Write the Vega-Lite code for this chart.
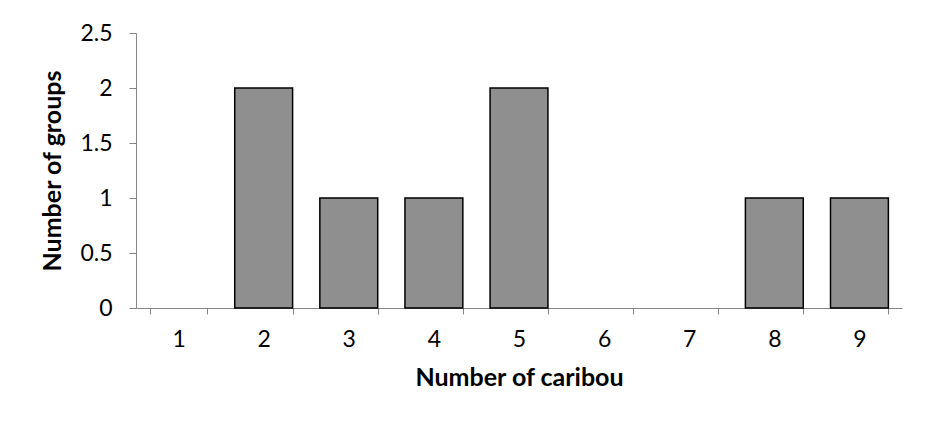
{
  "$schema": "https://vega.github.io/schema/vega-lite/v6.json",
  "width": 766,
  "height": 275,
  "autosize": {"type": "none"},
  "padding": {"left": 136, "top": 33, "right": 29, "bottom": 119},
  "background": "white",
  "config": {
    "view": {"stroke": null},
    "font": "Lato",
    "axis": {
      "domainColor": "#868686",
      "tickColor": "#868686",
      "domainWidth": 1,
      "tickWidth": 1,
      "grid": false,
      "labelFont": "Lato",
      "labelFontSize": 23,
      "labelColor": "#000000",
      "titleFont": "Lato",
      "titleFontSize": 25,
      "titleFontWeight": "bold",
      "titleColor": "#000000"
    }
  },
  "data": {
    "values": [
      {"caribou": "1", "groups": 0},
      {"caribou": "2", "groups": 2},
      {"caribou": "3", "groups": 1},
      {"caribou": "4", "groups": 1},
      {"caribou": "5", "groups": 2},
      {"caribou": "6", "groups": 0},
      {"caribou": "7", "groups": 0},
      {"caribou": "8", "groups": 1},
      {"caribou": "9", "groups": 1}
    ]
  },
  "mark": {"type": "bar", "fill": "#8f8f8f", "stroke": "#000000"},
  "encoding": {
    "x": {
      "field": "caribou",
      "type": "ordinal",
      "sort": null,
      "scale": {"paddingInner": 0.32, "paddingOuter": 0.16},
      "axis": {
        "title": "Number of caribou",
        "labelAngle": 0,
        "tickBand": "extent",
        "tickSize": 6,
        "labelPadding": 14,
        "titlePadding": 14
      }
    },
    "y": {
      "field": "groups",
      "type": "quantitative",
      "scale": {"domain": [0, 2.5], "nice": false},
      "axis": {
        "title": "Number of groups",
        "values": [0, 0.5, 1, 1.5, 2, 2.5],
        "format": "~g",
        "tickSize": 7,
        "labelPadding": 17,
        "titlePadding": 14
      }
    },
    "strokeWidth": {
      "condition": {"test": "datum.groups == 0", "value": 0},
      "value": 1.5
    }
  }
}
